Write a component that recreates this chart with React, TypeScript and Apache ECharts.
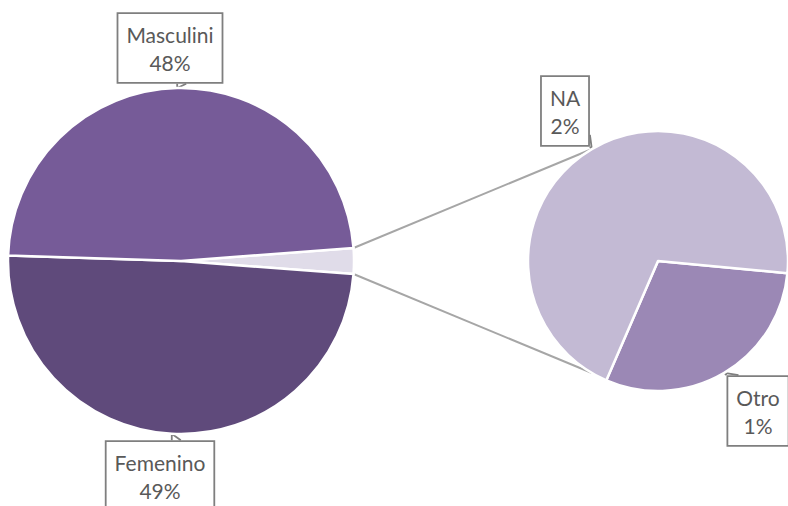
import React, { useEffect, useRef } from "react";
import * as echarts from "echarts";

// ---- data ----
const mainCategories = ["Masculini", "Femenino"];
const mainValues = [48.3, 49.3];
const subCategories = ["NA", "Otro"];
const subValues = [1.68, 0.72];
const otherName = "Otros";

// ---- layout ----
const W = 788;
const H = 506;
const MAIN_C = [181, 261];
const MAIN_R = 173;
const SUB_C = [658, 261];
const SUB_R = 130;
const SUB_START = 354.6; // degrees
const CONNECT_ANGLE = 120.5;

const COLORS: Record<string, string> = {
  Masculini: "#765b98",
  Femenino: "#5f4a7b",
  Otros: "#e0dce9",
  NA: "#c3bad4",
  Otro: "#9b88b5",
};

const LABEL_POS: Record<string, [number, number]> = {
  Masculini: [170, 48],
  Femenino: [160, 476],
  NA: [565, 111],
  Otro: [758, 411],
};

const WEDGE: Record<string, [number, number]> = {
  Masculini: [9, 0],
  Femenino: [9, 0],
  NA: [0, -12],
  Otro: [12, 0],
};

const otherSum = subValues.reduce((a, b) => a + b, 0);
const total = mainValues.reduce((a, b) => a + b, 0) + otherSum;
const mainStart = (otherSum / total) * 360 / 2;

const labelStyle = {
  show: true,
  position: "outside" as const,
  formatter: (p: any) => `${p.name}\n${Math.round(p.value)}%`,
  fontFamily: "Lato, 'Liberation Sans', sans-serif",
  fontSize: 21,
  lineHeight: 28,
  color: "#595959",
  backgroundColor: "#ffffff",
  borderColor: "#7f7f7f",
  borderWidth: 1.8,
  padding: [6, 8],
  align: "center" as const,
};

function clampToRect(p: number[], cx: number, cy: number, w: number, h: number) {
  const l = cx - w / 2, r = cx + w / 2, t = cy - h / 2, b = cy + h / 2;
  return [Math.min(Math.max(p[0], l), r), Math.min(Math.max(p[1], t), b)];
}

function makeLayout(center: number[], radius: number) {
  return (params: any) => {
    const name = params.text ? String(params.text).split("\n")[0] : "";
    const pos = LABEL_POS[name];
    if (!pos) return {};
    const rect = params.labelRect;
    const p0 = params.labelLinePoints && params.labelLinePoints[0]
      ? params.labelLinePoints[0]
      : [center[0], center[1] - radius];
    const p1 = clampToRect(p0, pos[0], pos[1], rect.width, rect.height);
    const w = WEDGE[name] || [0, 0];
    const p2 = [p1[0] + w[0], p1[1] + w[1]];
    return {
      x: pos[0],
      y: pos[1],
      align: "center",
      verticalAlign: "middle",
      labelLinePoints: [p1, p0, p2],
    };
  };
}

export default function App() {
  const ref = useRef<HTMLDivElement>(null);
  useEffect(() => {
    if (!ref.current) return;
    const chart = echarts.init(ref.current, undefined, { renderer: "svg" });

    const mainData = [
      { name: otherName, value: otherSum, label: { show: false }, labelLine: { show: false } },
      { name: mainCategories[1], value: mainValues[1] },
      { name: mainCategories[0], value: mainValues[0] },
    ];
    const subData = [
      { name: subCategories[1], value: subValues[1] },
      { name: subCategories[0], value: subValues[0] },
    ];

    const rad = Math.PI / 180;
    const a0 = mainStart * rad;
    const ac = CONNECT_ANGLE * rad;
    const top1 = [MAIN_C[0] + MAIN_R * Math.cos(a0), MAIN_C[1] - MAIN_R * Math.sin(a0)];
    const bot1 = [MAIN_C[0] + MAIN_R * Math.cos(a0), MAIN_C[1] + MAIN_R * Math.sin(a0)];
    const top2 = [SUB_C[0] + SUB_R * Math.cos(ac), SUB_C[1] - SUB_R * Math.sin(ac)];
    const bot2 = [SUB_C[0] + SUB_R * Math.cos(ac), SUB_C[1] + SUB_R * Math.sin(ac)];

    chart.setOption({
      animation: false,
      backgroundColor: "#ffffff",
      color: [COLORS.Otros, COLORS.Femenino, COLORS.Masculini],
      graphic: [
        {
          type: "line",
          z: 0,
          shape: { x1: top1[0], y1: top1[1], x2: top2[0], y2: top2[1] },
          style: { stroke: "#a6a6a6", lineWidth: 2 },
        },
        {
          type: "line",
          z: 0,
          shape: { x1: bot1[0], y1: bot1[1], x2: bot2[0], y2: bot2[1] },
          style: { stroke: "#a6a6a6", lineWidth: 2 },
        },
      ],
      series: [
        {
          type: "pie",
          center: MAIN_C,
          radius: MAIN_R,
          startAngle: mainStart,
          clockwise: true,
          avoidLabelOverlap: false,
          z: 3,
          data: mainData.map((d) => ({
            ...d,
            itemStyle: { color: COLORS[d.name] },
          })),
          itemStyle: { borderColor: "#ffffff", borderWidth: 2.5 },
          label: labelStyle,
          labelLine: { show: true, length: 4, length2: 0, lineStyle: { color: "#7f7f7f", width: 1.8 } },
          labelLayout: makeLayout(MAIN_C, MAIN_R),
        },
        {
          type: "pie",
          center: SUB_C,
          radius: SUB_R,
          startAngle: SUB_START,
          clockwise: true,
          avoidLabelOverlap: false,
          z: 3,
          data: subData.map((d) => ({
            ...d,
            itemStyle: { color: COLORS[d.name] },
          })),
          itemStyle: { borderColor: "#ffffff", borderWidth: 2.5 },
          label: labelStyle,
          labelLine: { show: true, length: 4, length2: 0, lineStyle: { color: "#7f7f7f", width: 1.8 } },
          labelLayout: makeLayout(SUB_C, SUB_R),
        },
      ],
    });
    return () => chart.dispose();
  }, []);
  return (
    <div
      ref={ref}
      style={{ position: "fixed", left: 0, top: 0, width: W, height: H }}
    />
  );
}
